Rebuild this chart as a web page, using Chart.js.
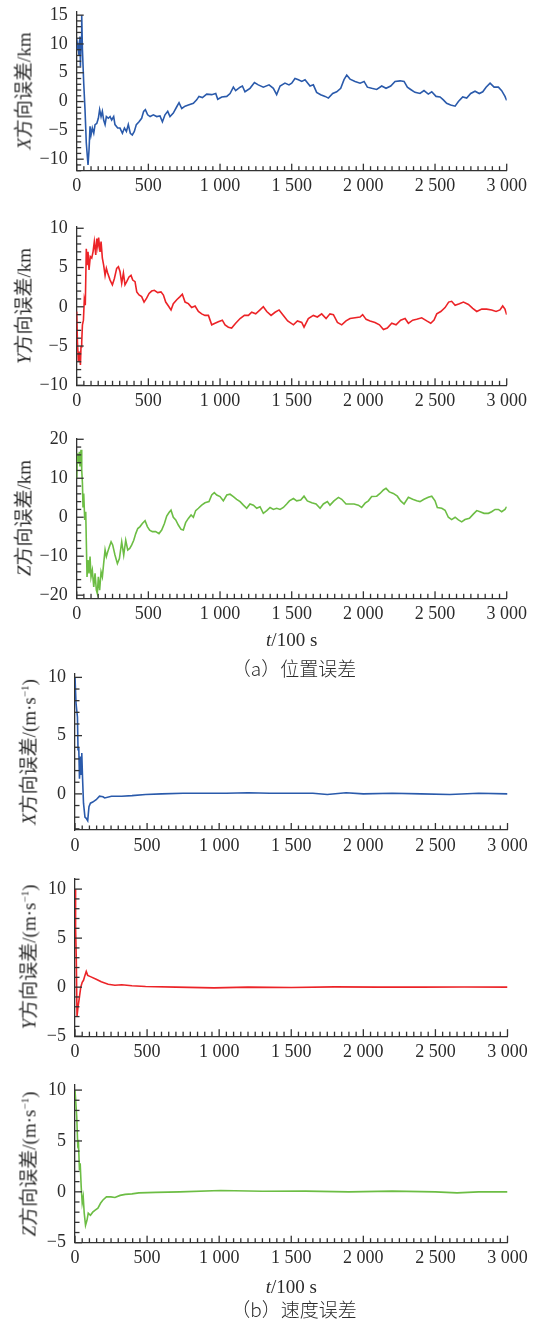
<!DOCTYPE html>
<html>
<head>
<meta charset="utf-8">
<script src="https://cdn.jsdelivr.net/npm/chart.js@4.4.0/dist/chart.umd.min.js"></script>
<style>
  body { margin: 0; background: #fff; width: 538px; height: 1319px; position: relative; overflow: hidden;
         font-family: 'Liberation Serif', 'Noto Sans CJK SC', serif; color: #2b2b2b; }
  .panel { position: absolute; left: 0; }
  .ytitle { position: absolute; font-size: 19px; white-space: nowrap; transform: translate(-50%, -50%) rotate(-90deg); }
  .xtitle { position: absolute; font-size: 19px; white-space: nowrap; transform: translate(-50%, -50%); }
  .cap { position: absolute; font-size: 19px; white-space: nowrap; transform: translate(-50%, -50%);
         font-family: 'Noto Sans CJK SC', serif; font-weight: 300; }
  sup { font-size: 11px; }
</style>
</head>
<body>
<script>
// time axis
const xTicks = [0, 500, 1000, 1500, 2000, 2500, 3000];
const xTickLabels = ['0', '500', '1 000', '1 500', '2 000', '2 500', '3 000'];

// (a) position error, km
const xPosT = [
  0, 7, 16, 23, 26, 30, 35, 40, 49, 58,
  67, 79, 86, 93, 100, 109, 119, 128, 140, 151,
  160, 170, 179, 188, 198, 207, 221, 233, 244, 258,
  267, 286, 302, 319, 333, 347, 360, 374, 388, 402,
  416, 435, 453, 467, 479, 495, 512, 535, 558, 581,
  598, 616, 635, 651, 674, 698, 714, 733, 756, 779,
  814, 837, 853, 877, 907, 942, 970, 984, 1012, 1047,
  1070, 1093, 1109, 1140, 1156, 1174, 1209, 1240, 1267, 1302,
  1342, 1372, 1395, 1419, 1453, 1481, 1500, 1523, 1547, 1570,
  1593, 1628, 1651, 1674, 1702, 1733, 1756, 1786, 1814, 1842,
  1865, 1884, 1907, 1942, 1977, 2005, 2028, 2058, 2093, 2128,
  2158, 2191, 2221, 2256, 2284, 2307, 2330, 2360, 2395, 2423,
  2453, 2477, 2507, 2535, 2558, 2581, 2609, 2640, 2663, 2693,
  2721, 2749, 2779, 2809, 2833, 2856, 2884, 2912, 2942, 2965,
  2988, 3000
];
const xPosV = [
  9.0, 10.1, 8.1, 11.3, 6.1, 10.7, 15.0, 9.0, 3.2, -1.4,
  -7.2, -11.0, -8.4, -4.3, -5.8, -4.6, -5.5, -4.0, -3.8, -2.9,
  -1.4, -2.6, -1.7, -3.2, -4.0, -2.6, -2.9, -2.6, -3.2, -2.6,
  -4.0, -4.6, -4.6, -5.5, -4.6, -5.2, -4.0, -5.5, -5.8, -5.2,
  -4.0, -3.5, -2.9, -1.7, -1.4, -2.3, -2.6, -2.3, -2.6, -2.5,
  -3.5, -2.3, -1.7, -2.6, -2.0, -0.9, -0.2, -1.2, -0.8, -0.6,
  -0.3, 0.3, 0.9, 0.7, 1.3, 1.2, 1.4, 0.4, 0.8, 0.9,
  1.4, 2.5, 1.9, 2.5, 2.7, 1.7, 2.3, 3.3, 2.9, 2.5,
  2.9, 2.3, 1.2, 2.7, 3.2, 2.9, 3.2, 4.0, 3.8, 3.5,
  3.8, 2.7, 2.9, 1.6, 1.2, 0.9, 0.6, 1.4, 1.7, 2.3,
  3.8, 4.6, 3.9, 3.5, 3.2, 3.5, 2.5, 2.3, 2.1, 2.7,
  2.3, 2.7, 3.5, 3.6, 3.5, 2.5, 2.1, 1.6, 1.4, 1.9,
  1.3, 1.7, 0.9, 0.8, 0.3, -0.3, -0.6, -0.8, 0.0, 0.8,
  0.6, 1.4, 1.8, 1.4, 1.7, 2.5, 3.2, 2.5, 2.5, 1.9,
  0.9, 0.2
];

const yPosT = [
  0, 5, 12, 19, 26, 30, 35, 40, 47, 53,
  60, 67, 72, 79, 86, 95, 105, 114, 123, 133,
  140, 147, 153, 163, 170, 179, 188, 198, 207, 216,
  233, 249, 263, 279, 291, 302, 314, 326, 337, 349,
  365, 379, 391, 407, 419, 435, 453, 470, 488, 505,
  523, 542, 565, 588, 605, 621, 640, 658, 674, 698,
  721, 737, 756, 779, 802, 826, 849, 872, 895, 919,
  942, 965, 988, 1016, 1035, 1058, 1081, 1109, 1140, 1170,
  1198, 1221, 1249, 1279, 1302, 1326, 1356, 1384, 1412, 1442,
  1472, 1512, 1540, 1570, 1586, 1616, 1651, 1679, 1709, 1740,
  1767, 1791, 1819, 1849, 1879, 1907, 1942, 1977, 1995, 2019,
  2047, 2081, 2112, 2140, 2167, 2198, 2228, 2260, 2291, 2314,
  2344, 2372, 2407, 2442, 2470, 2493, 2512, 2540, 2570, 2595,
  2616, 2640, 2670, 2698, 2733, 2763, 2791, 2826, 2860, 2895,
  2926, 2953, 2972, 2988, 3000
];
const yPosV = [
  -0.6, -4.5, -7.0, -5.7, -7.4, -5.1, -4.5, -2.3, -1.7, 0.9,
  0.2, 7.4, 5.3, 7.0, 4.7, 6.4, 6.2, 7.0, 8.3, 6.6,
  8.7, 7.7, 8.8, 7.0, 8.3, 6.2, 5.3, 4.0, 4.9, 4.3,
  3.4, 2.8, 3.6, 4.9, 5.1, 4.5, 3.0, 4.3, 2.8, 3.2,
  3.8, 4.0, 3.4, 3.2, 1.9, 1.5, 1.3, 0.6, 1.1, 1.7,
  2.0, 2.1, 1.8, 1.9, 1.5, 0.6, 0.1, -0.4, 0.4, 0.9,
  1.3, 1.6, 0.6, 0.4, -0.1, 0.1, -0.6, -0.9, -1.1, -1.1,
  -2.3, -2.1, -1.9, -1.7, -2.3, -2.6, -2.7, -2.1, -1.5, -1.1,
  -1.1, -0.7, -0.9, -0.4, 0.0, -0.6, -1.1, -0.7, -0.4, -1.1,
  -1.8, -2.3, -1.8, -2.0, -2.6, -1.5, -1.1, -1.3, -0.9, -1.5,
  -0.9, -1.0, -2.0, -2.3, -1.8, -1.5, -1.4, -1.3, -1.0, -1.6,
  -1.8, -2.0, -2.3, -2.9, -2.7, -2.1, -2.3, -1.7, -1.5, -2.1,
  -1.7, -1.6, -1.4, -1.8, -2.1, -1.7, -0.9, -0.6, -0.1, 0.6,
  0.7, 0.2, 0.4, 0.6, 0.3, -0.2, -0.6, -0.3, -0.3, -0.4,
  -0.6, -0.4, 0.1, -0.3, -1.0
];

const zPosT = [
  0, 5, 12, 19, 23, 30, 35, 40, 44, 49,
  56, 63, 67, 72, 79, 86, 93, 100, 109, 119,
  128, 137, 144, 151, 160, 170, 179, 188, 198, 207,
  216, 228, 240, 251, 267, 284, 298, 314, 328, 342,
  356, 370, 384, 398, 412, 426, 442, 458, 477, 493,
  509, 528, 551, 574, 593, 612, 628, 644, 658, 674,
  691, 709, 728, 744, 760, 779, 798, 814, 830, 849,
  872, 895, 923, 942, 960, 977, 1000, 1023, 1047, 1070,
  1093, 1116, 1140, 1163, 1186, 1209, 1233, 1256, 1279, 1302,
  1326, 1349, 1372, 1395, 1419, 1442, 1465, 1484, 1512, 1535,
  1563, 1586, 1609, 1640, 1670, 1698, 1721, 1749, 1767, 1795,
  1826, 1849, 1879, 1907, 1935, 1965, 1988, 2012, 2035, 2058,
  2093, 2116, 2140, 2158, 2181, 2209, 2237, 2260, 2284, 2314,
  2344, 2372, 2395, 2423, 2453, 2477, 2500, 2516, 2547, 2570,
  2593, 2616, 2640, 2663, 2686, 2709, 2740, 2767, 2791, 2814,
  2842, 2872, 2895, 2919, 2942, 2965, 2988, 3000
];
const zPosV = [
  10.0, 16.4, 13.8, 16.8, 13.0, 17.3, 12.1, 8.7, 2.7, 6.1,
  -0.7, 1.4, -5.9, -15.3, -11.0, -14.4, -10.1, -15.3, -13.6, -17.9,
  -14.4, -18.7, -19.6, -15.3, -18.7, -14.0, -15.3, -11.9, -8.4, -10.1,
  -8.9, -7.6, -6.3, -7.1, -9.7, -11.9, -10.6, -6.3, -9.7, -5.9,
  -8.4, -8.0, -7.1, -5.9, -4.2, -2.9, -2.4, -1.6, -0.9, -2.4,
  -3.3, -3.7, -3.7, -4.2, -3.3, -1.6, 0.3, 1.2, 1.8, 0.0,
  -0.7, -2.0, -3.1, -3.3, -1.4, -0.3, 0.6, 0.0, 1.7, 2.3,
  3.1, 3.7, 4.0, 5.7, 6.3, 5.7, 5.3, 4.2, 5.7, 5.9,
  5.3, 4.6, 4.0, 3.1, 2.3, 3.4, 3.1, 2.3, 2.7, 1.0,
  1.7, 2.5, 2.0, 2.3, 2.0, 2.5, 3.4, 4.2, 4.8, 4.2,
  4.4, 5.4, 4.2, 3.7, 3.4, 2.3, 3.4, 4.0, 3.1, 4.2,
  5.1, 4.6, 3.4, 3.4, 3.4, 3.1, 2.5, 3.6, 4.2, 5.3,
  5.4, 6.1, 7.0, 7.4, 6.5, 6.1, 5.4, 4.2, 3.4, 5.1,
  4.6, 4.2, 4.0, 4.6, 5.1, 5.4, 4.2, 2.5, 2.3, 1.8,
  0.0, -0.6, 0.0, -0.7, -1.2, -0.6, -0.3, 0.8, 1.7, 1.4,
  1.0, 1.0, 1.4, 2.0, 2.0, 1.4, 2.0, 2.7
];

// (b) velocity error, m/s
const xVelT = [0, 7, 17, 21, 26, 31, 38, 43, 47, 52, 59, 69, 78, 88, 97, 107, 123, 147, 170, 194,
  206, 253, 324, 395, 490, 600, 750, 900, 1050, 1200, 1350, 1500, 1650, 1750, 1880, 2000, 2200, 2400, 2600, 2800, 3000];
const xVelV = [10, 7.8, 6.6, 3.8, 4.0, 1.3, 3.2, 1.7, 3.5, 1.5, -0.8, -2.0, -2.1, -2.3, -1.1, -0.8, -0.7, -0.5, -0.2, -0.25,
  -0.35, -0.2, -0.2, -0.15, -0.05, 0, 0.05, 0.05, 0.05, 0.1, 0.05, 0.05, 0.05, -0.05, 0.1, 0, 0.05, 0, -0.05, 0.05, 0];

const yVelT = [0, 4, 9, 14, 21, 28, 40, 50, 59, 69, 78, 88, 111, 147, 182, 230, 277, 324, 395, 490,
  700, 964, 1200, 1500, 1800, 2100, 2400, 2700, 3000];
const yVelV = [10, 6, 2.8, -3.0, -2.0, -1.3, 0.0, 0.5, 0.7, 1.2, 1.6, 1.2, 1.05, 0.8, 0.55, 0.3, 0.2, 0.25, 0.15, 0.07,
  0, -0.07, 0, -0.03, 0.03, 0, 0, 0.02, 0];

const zVelT = [0, 12, 19, 24, 31, 36, 43, 50, 57, 64, 73, 83, 92, 107, 123, 140, 159, 178, 194, 218,
  249, 277, 313, 348, 395, 443, 561, 727, 1011, 1300, 1600, 1900, 2200, 2500, 2650, 2800, 3000];
const zVelV = [10, 7.4, 4.6, 4.8, 2.1, 2.8, 0.5, -1.1, -0.5, -2.1, -3.3, -2.8, -2.1, -2.3, -2.0, -1.8, -1.6, -1.1, -0.8, -0.5,
  -0.5, -0.55, -0.35, -0.25, -0.2, -0.1, -0.05, 0, 0.13, 0.05, 0.07, 0, 0.07, 0, -0.1, 0, 0];

const posXTicks = [-10, -5, 0, 5, 10, 15];
const posYTicks = [-10, -5, 0, 5, 10];
const posZTicks = [-20, -10, 0, 10, 20];
const velXTicks = [0, 5, 10];
const velTicks = [-5, 0, 5, 10];

const blue = '#2a5aab', red = '#ec2327', green = '#6cbd44';
const axisColor = '#333';
const font = { family: "'Liberation Serif', serif", size: 18 };

const panels = [
  { t: xPosT, v: xPosV, color: blue, yTicks: posXTicks, min: -12, max: 15.6, minor: 1, major: 5,
    left: 76.7, right: 506.7, top: 11.7, bottom: 170.7, tx: 22, title: '<i>X</i>方向误差/km' },
  { t: yPosT, v: yPosV, color: red, yTicks: posYTicks, min: -10, max: 10.2, minor: 1, major: 5,
    left: 76.7, right: 506.7, top: 226.7, bottom: 385.3, tx: 22, title: '<i>Y</i>方向误差/km' },
  { t: zPosT, v: zPosV, color: green, yTicks: posZTicks, min: -20.8, max: 20.25, minor: 2, major: 10,
    left: 76.7, right: 506.7, top: 438.3, bottom: 598.3, tx: 22, title: '<i>Z</i>方向误差/km' },
  { t: xVelT, v: xVelV, color: blue, yTicks: velXTicks, min: -3.1, max: 10.35, minor: 1, major: 5,
    left: 75, right: 507.5, top: 673.3, bottom: 830, tx: 27, title: '<i>X</i>方向误差/(m·s<sup>−1</sup>)' },
  { t: yVelT, v: yVelV, color: red, yTicks: velTicks, min: -5, max: 11.1, minor: 1, major: 5,
    left: 75, right: 507.5, top: 878.3, bottom: 1036.2, tx: 27, title: '<i>Y</i>方向误差/(m·s<sup>−1</sup>)' },
  { t: zVelT, v: zVelV, color: green, yTicks: velTicks, min: -5, max: 10.5, minor: 1, major: 5,
    left: 75, right: 507.5, top: 1085, bottom: 1242.7, tx: 27, title: '<i>Z</i>方向误差/(m·s<sup>−1</sup>)' }
];

// ticks point inward, with minor marks, so draw them from the scales after the datasets
const innerTicks = {
  id: 'innerTicks',
  afterDatasetsDraw(chart) {
    const p = chart.config.options.tickSteps;
    const { ctx, chartArea } = chart;
    const x = chart.scales.x, y = chart.scales.y;
    ctx.save();
    ctx.fillStyle = axisColor;
    for (let v = 0; v <= 3000; v += 50) {
      const px = x.getPixelForValue(v);
      const len = v % 500 === 0 ? 7 : 4.5;
      ctx.fillRect(px - 0.65, chartArea.bottom - len, 1.3, len);
    }
    for (let v = Math.ceil(y.min / p.minor) * p.minor; v <= y.max + 1e-9; v += p.minor) {
      const py = y.getPixelForValue(v);
      const r = v / p.major;
      const len = Math.abs(r - Math.round(r)) < 1e-6 ? 7 : 4.5;
      ctx.fillRect(chartArea.left, py - 0.65, len, 1.3);
    }
    ctx.restore();
  }
};

const PAD_TOP = 20, XAXIS_H = 36;

panels.forEach(p => {
  const cTop = Math.floor(p.top) - PAD_TOP;
  const cH = Math.ceil(p.bottom - cTop + XAXIS_H);
  const wrap = document.createElement('div');
  wrap.className = 'panel';
  wrap.style.top = cTop + 'px';
  const canvas = document.createElement('canvas');
  canvas.width = 538;
  canvas.height = cH;
  wrap.appendChild(canvas);
  document.body.appendChild(wrap);

  const title = document.createElement('div');
  title.className = 'ytitle';
  title.style.left = p.tx + 'px';
  title.style.top = ((p.top + p.bottom) / 2) + 'px';
  title.innerHTML = p.title;
  document.body.appendChild(title);

  new Chart(canvas, {
    type: 'line',
    data: {
      datasets: [{
        data: p.t.map((t, i) => ({ x: t, y: p.v[i] })),
        borderColor: p.color,
        borderWidth: 1.6,
        pointRadius: 0,
        tension: 0,
        fill: false
      }]
    },
    options: {
      responsive: false,
      animation: false,
      tickSteps: { minor: p.minor, major: p.major },
      layout: { padding: { top: p.top - cTop, right: 538 - p.right, left: 0, bottom: 0 } },
      plugins: {
        legend: { display: false },
        tooltip: { enabled: false }
      },
      scales: {
        x: {
          type: 'linear', min: 0, max: 3000,
          grid: { display: false, drawTicks: false },
          border: { display: true, color: axisColor, width: 1.3 },
          ticks: { font: font, color: '#2b2b2b', padding: 5, maxRotation: 0, autoSkip: false,
                   callback: (val, i) => xTickLabels[i] },
          afterBuildTicks: s => { s.ticks = xTicks.map(v => ({ value: v })); },
          afterFit: s => { s.height = cH - (p.bottom - cTop); }
        },
        y: {
          type: 'linear', min: p.min, max: p.max,
          grid: { display: false, drawTicks: false },
          border: { display: true, color: axisColor, width: 1.3 },
          ticks: { font: font, color: '#2b2b2b', padding: 9,
                   callback: val => String(val).replace('-', '−') },
          afterBuildTicks: s => { s.ticks = p.yTicks.map(v => ({ value: v })); },
          afterFit: s => { s.width = p.left; }
        }
      }
    },
    plugins: [innerTicks]
  });
});

// axis titles and captions
const texts = [
  { cls: 'xtitle', x: 291.7, y: 640, html: '<i>t</i>/100 s' },
  { cls: 'cap', x: 294, y: 667, html: '（a）位置误差' },
  { cls: 'xtitle', x: 291.3, y: 1287, html: '<i>t</i>/100 s' },
  { cls: 'cap', x: 294, y: 1308, html: '（b）速度误差' }
];
texts.forEach(tx => {
  const d = document.createElement('div');
  d.className = tx.cls;
  d.style.left = tx.x + 'px';
  d.style.top = tx.y + 'px';
  d.innerHTML = tx.html;
  document.body.appendChild(d);
});
</script>
</body>
</html>
